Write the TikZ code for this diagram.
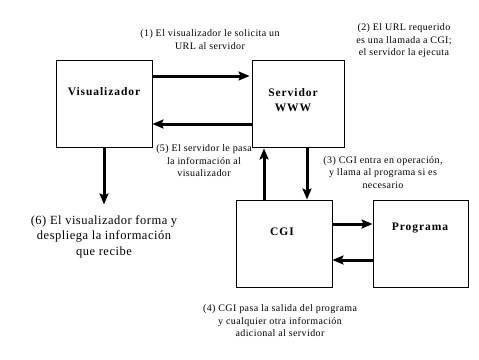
\documentclass[tikz,border=0pt]{standalone}
\usepackage{fontspec}
\setmainfont{Liberation Serif}
\newfontfamily\spaced[LetterSpace=4]{Liberation Serif}
\newfontfamily\spacedb[LetterSpace=8]{Liberation Serif}
\usetikzlibrary{arrows.meta}
\begin{document}
\begin{tikzpicture}[x=1pt,y=-1pt,
  box/.style={draw,line width=0.9pt,inner sep=0pt,minimum height=87pt},
  lbl/.style={font=\spacedb\bfseries\fontsize{11.5}{15}\selectfont,align=center},
  note/.style={font=\spaced\fontsize{10}{12.5}\selectfont,align=center,inner sep=0pt},
  big/.style={font=\spaced\fontsize{12.5}{15.5}\selectfont,align=center,inner sep=0pt},
  arr/.style={line width=3pt,-{Stealth[length=11pt,width=9pt,inset=2pt]}}]
\useasboundingbox (0,0) rectangle (479,359);
% boxes
\node[box,minimum width=96pt] (vis) at (104,103.5) {};
\node[box,minimum width=92pt] (ser) at (298,103.5) {};
\node[box,minimum width=96pt] (cgi) at (284,243.5) {};
\node[box,minimum width=95pt] (prog) at (420.5,243.5) {};
\node[lbl] (tvis) at (104,92) {Visualizador};
\node[lbl] (tser) at (293,100) {Servidor\\WWW};
\node[lbl] (tcgi) at (282,232) {CGI};
\node[lbl] (tprog) at (420,228) {Programa};
% connectors
\draw[arr] (vis.east |- 0,76) -- ([xshift=-2pt]ser.west |- 0,76);
\draw[arr] (ser.west |- 0,124) -- (vis.east |- 0,124);
\draw[arr] (vis.south) -- ++(0,57);
\draw[arr] (cgi.north -| 264,0) -- ([yshift=-1pt]ser.south -| 264,0);
\draw[arr] (ser.south -| 307,0) -- (cgi.north -| 307,0);
\draw[arr] (cgi.east |- 0,224) -- (prog.west |- 0,224);
\draw[arr] (prog.west |- 0,260) -- (cgi.east |- 0,260);
% notes
\node[note] (n1) at (210,39.5) {(1) El visualizador le solicita un\\URL al servidor};
\node[note] (n2) at (404,41) {(2) El URL requerido\\es una llamada a CGI;\\el servidor la ejecuta};
\node[note] (n5) at (204,161) {(5) El servidor le pasa\\la información al\\visualizador};
\node[note] (n3) at (383,172.5) {(3) CGI entra en operación,\\y llama al programa si es\\necesario};
\node[note] (n4) at (280,321) {(4) CGI pasa la salida del programa\\y cualquier otra información\\adicional al servidor};
\node[big] (n6) at (104,236.5) {(6) El visualizador forma y\\despliega la información\\que recibe};
\end{tikzpicture}
\end{document}
